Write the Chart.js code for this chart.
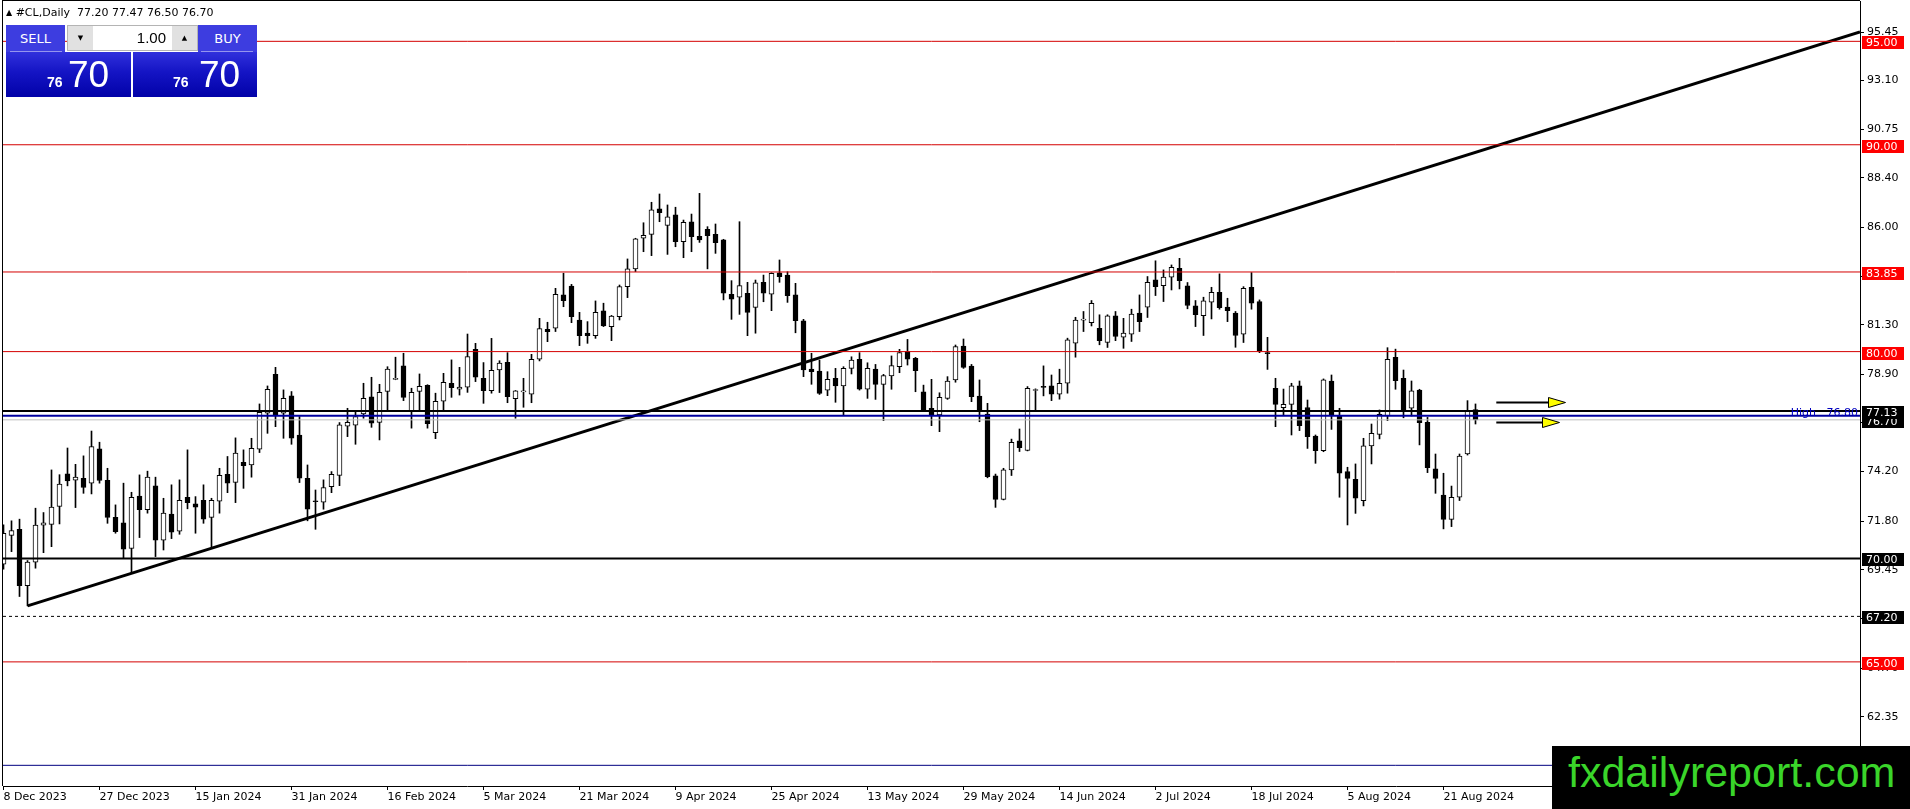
<!DOCTYPE html>
<html>
<head>
<meta charset="utf-8">
<title>#CL,Daily</title>
<script src="https://cdn.jsdelivr.net/npm/chart.js"></script>
<style>
  body { margin: 0; background: #fff; }
  #wrap { position: relative; width: 1910px; height: 809px; overflow: hidden; background: #fff; }
  #c { position: absolute; left: 0; top: 0; display: block; }
  .abs { position: absolute; }
  #hdr { left: 6px; top: 6px; font: 11px/14px "DejaVu Sans", sans-serif; color: #000; white-space: pre; }
  #hdr .tri { font-size: 8px; vertical-align: 1px; }
  .btn { top: 25px; width: 59px; height: 27px; background: #3d3de0; color: #fff;
         font: 13px/27px "DejaVu Sans", sans-serif; text-align: center; }
  .sep { top: 51px; width: 52px; height: 1px; background: rgba(255,255,255,0.45); }
  .box { top: 52px; height: 45px; background: linear-gradient(#3030dc, #1414c4 45%, #0202a8); }
  .sm { top: 75px; font: bold 14px/14px "Liberation Sans", sans-serif; color: #fff; }
  .big { top: 56px; font: 37px/37px "Liberation Sans", sans-serif; color: #fff; }
  #qty { left: 67px; top: 25px; width: 129px; height: 24px; background: #fff; border: 1px solid #b4b4b4; }
  .arr { top: 0; width: 25px; height: 24px; background: #e1e1e1; font: 7px/24px "DejaVu Sans", sans-serif;
         text-align: center; color: #000; }
  #qtyVal { left: 26px; top: 0; width: 72px; height: 24px; font: 15px/24px "Liberation Sans", sans-serif;
            text-align: right; color: #000; }
  #logo { left: 1552px; top: 746px; width: 358px; height: 63px; background: #000; }
  #logoText { left: 1568px; top: 751px; font: 43px/43px "Liberation Sans", sans-serif; color: #3ad52a; white-space: nowrap; }
</style>
</head>
<body>
<div id="wrap">
  <canvas id="c" width="1910" height="809"></canvas>

  <div id="hdr" class="abs"><span class="tri">▲</span> #CL,Daily  77.20 77.47 76.50 76.70</div>

  <div class="abs box" style="left:6px;width:125px"></div>
  <div class="abs box" style="left:133px;width:124px"></div>
  <div class="abs btn" style="left:6px">SELL</div>
  <div class="abs btn" style="left:198px">BUY</div>
  <div class="abs sep" style="left:10px"></div>
  <div class="abs sep" style="left:201px"></div>
  <div id="qty" class="abs">
    <div class="abs arr" style="left:0">▼</div>
    <div id="qtyVal" class="abs">1.00</div>
    <div class="abs arr" style="left:104px">▲</div>
  </div>
  <div class="abs sm" style="left:47px">76</div>
  <div class="abs big" style="left:68px">70</div>
  <div class="abs sm" style="left:173px">76</div>
  <div class="abs big" style="left:199px">70</div>

  <div id="logo" class="abs"></div>
  <div id="logoText" class="abs">fxdailyreport.com</div>
</div>

<script>
// bottom axis labels, one every 12 daily bars
const dateLabels = ['8 Dec 2023', '27 Dec 2023', '15 Jan 2024', '31 Jan 2024', '16 Feb 2024',
  '5 Mar 2024', '21 Mar 2024', '9 Apr 2024', '25 Apr 2024', '13 May 2024', '29 May 2024',
  '14 Jun 2024', '2 Jul 2024', '18 Jul 2024', '5 Aug 2024', '21 Aug 2024']
const labelStep = 12

// daily OHLC
const opens = [
  69.72, 71.12, 71.41, 68.69, 69.82, 71.61, 71.65, 72.51, 74.09, 73.78,
  73.88, 73.64, 75.30, 73.78, 71.99, 71.72, 70.48, 73.02, 72.36, 73.51,
  70.88, 72.14, 71.32, 72.96, 72.64, 72.81, 71.99, 72.77, 74.07, 73.68,
  74.65, 74.52, 75.28, 77.02, 78.90, 77.02, 77.86, 75.97, 73.88, 72.76,
  72.72, 73.47, 74.01, 76.39, 76.44, 76.99, 77.81, 76.58, 78.07, 78.66,
  79.31, 77.15, 78.07, 78.37, 76.08, 77.60, 78.47, 78.18, 78.28, 80.11,
  78.71, 78.11, 79.11, 79.48, 77.73, 78.05, 77.94, 79.63, 81.08, 81.13,
  82.74, 83.17, 81.53, 80.89, 80.77, 81.97, 81.21, 81.69, 83.14, 84.00,
  85.48, 85.67, 86.90, 86.10, 86.61, 85.32, 86.28, 85.57, 85.91, 85.67,
  85.40, 82.77, 82.63, 82.82, 82.14, 83.35, 82.78, 83.81, 83.70, 82.74,
  81.49, 79.16, 79.06, 78.14, 78.71, 78.34, 79.19, 79.63, 78.18, 79.16,
  78.42, 78.82, 79.27, 80.00, 79.67, 78.06, 77.26, 76.94, 77.74, 78.63,
  80.27, 79.30, 77.85, 76.98, 74.00, 72.86, 74.28, 75.69, 75.22, 78.12,
  78.30, 78.34, 77.94, 78.47, 80.41, 81.52, 81.40, 81.13, 80.44, 81.73,
  80.70, 80.84, 81.86, 82.15, 83.47, 83.19, 83.60, 84.03, 83.18, 82.21,
  81.74, 82.39, 82.87, 82.15, 81.86, 80.84, 83.11, 82.42, 79.92, 78.22,
  77.29, 77.45, 78.34, 77.30, 75.92, 75.21, 78.58, 76.89, 74.20, 73.83,
  72.80, 75.44, 76.00, 76.89, 79.72, 78.71, 77.26, 78.14, 76.58, 74.33,
  73.07, 71.89, 72.96, 75.05, 77.20]
const highs = [
  71.62, 71.82, 71.90, 69.90, 72.43, 72.22, 74.28, 74.05, 75.34, 74.55,
  74.96, 76.16, 75.62, 74.36, 72.59, 73.64, 73.20, 74.04, 74.22, 73.93,
  72.91, 73.56, 73.80, 75.25, 72.99, 73.56, 72.91, 74.36, 74.93, 75.83,
  75.25, 75.81, 77.47, 78.34, 79.24, 78.15, 78.07, 76.86, 74.52, 73.31,
  73.80, 74.20, 76.57, 77.26, 77.10, 78.47, 78.76, 78.42, 79.27, 79.73,
  79.92, 78.23, 78.92, 78.40, 77.99, 78.95, 79.60, 79.24, 80.85, 80.40,
  79.47, 80.64, 79.56, 79.95, 78.12, 78.71, 79.87, 81.61, 81.42, 83.06,
  83.79, 83.25, 81.90, 81.45, 82.45, 82.34, 81.75, 83.22, 84.48, 85.48,
  86.23, 87.22, 87.62, 87.09, 86.98, 86.36, 86.65, 87.65, 86.04, 86.17,
  85.43, 83.43, 86.28, 83.35, 83.46, 83.70, 83.81, 84.43, 83.86, 83.30,
  81.56, 79.92, 79.59, 79.03, 79.19, 79.27, 79.75, 79.95, 79.46, 79.38,
  78.90, 79.79, 80.11, 80.59, 79.72, 78.38, 78.66, 78.01, 78.79, 80.32,
  80.61, 79.38, 78.63, 77.50, 74.08, 74.36, 75.77, 76.26, 78.31, 78.20,
  79.31, 78.87, 79.15, 80.65, 81.66, 81.94, 82.47, 81.78, 81.78, 81.94,
  81.61, 82.05, 82.74, 83.63, 84.39, 83.95, 84.19, 84.51, 83.34, 82.47,
  82.63, 83.11, 83.76, 82.58, 81.94, 83.14, 83.82, 82.50, 80.69, 78.71,
  78.19, 78.47, 78.58, 77.66, 75.97, 78.68, 78.87, 77.26, 74.41, 74.57,
  75.81, 76.50, 77.18, 80.19, 80.12, 79.11, 78.58, 78.18, 76.82, 75.05,
  74.12, 73.50, 75.05, 77.63, 77.47]
const lows = [
  69.48, 70.33, 68.16, 67.71, 69.53, 70.28, 70.57, 71.67, 73.51, 72.46,
  73.15, 73.12, 73.64, 71.70, 71.22, 70.00, 69.29, 71.01, 72.19, 70.09,
  70.41, 70.96, 71.17, 72.40, 71.22, 71.70, 70.53, 72.19, 73.18, 72.70,
  73.39, 73.93, 75.12, 76.05, 76.37, 75.81, 75.52, 73.67, 71.82, 71.41,
  72.38, 73.18, 73.52, 75.89, 75.52, 76.78, 76.34, 75.73, 77.18, 78.64,
  77.63, 76.30, 77.15, 76.30, 75.79, 77.15, 77.79, 77.90, 78.03, 78.55,
  77.50, 77.99, 78.02, 77.53, 76.78, 77.31, 77.53, 79.55, 80.48, 80.97,
  82.17, 81.40, 80.29, 80.40, 80.64, 81.21, 80.53, 81.53, 82.61, 83.87,
  84.83, 84.64, 86.28, 84.70, 85.07, 84.54, 84.83, 85.28, 84.00, 84.75,
  82.50, 81.56, 81.80, 80.77, 80.89, 82.41, 81.98, 83.35, 82.38, 80.91,
  78.79, 78.42, 77.93, 77.87, 77.55, 76.94, 78.92, 78.14, 77.74, 77.69,
  76.66, 78.18, 78.98, 79.35, 78.06, 77.10, 76.42, 76.13, 77.69, 78.52,
  79.19, 77.58, 76.61, 73.90, 72.47, 72.83, 74.01, 75.17, 75.20, 77.15,
  77.86, 77.63, 77.70, 77.99, 79.73, 80.97, 81.24, 80.33, 80.20, 80.53,
  80.16, 80.49, 80.97, 81.65, 82.71, 82.42, 82.98, 83.03, 82.07, 81.21,
  80.78, 81.58, 82.05, 81.45, 80.21, 80.44, 82.05, 79.95, 79.14, 76.37,
  76.94, 75.97, 76.18, 75.32, 74.60, 75.16, 76.24, 72.96, 71.62, 72.18,
  72.54, 74.57, 75.78, 76.66, 78.18, 76.80, 76.89, 75.49, 74.15, 73.15,
  71.43, 71.54, 72.80, 75.00, 76.50]
const closes = [
  71.22, 71.35, 68.69, 69.82, 71.61, 71.72, 72.48, 73.60, 73.75, 73.93,
  73.43, 75.41, 73.77, 71.99, 71.30, 70.45, 72.96, 72.36, 73.93, 70.88,
  72.20, 71.27, 72.81, 72.70, 72.48, 71.90, 72.81, 74.02, 73.64, 75.09,
  74.49, 75.33, 77.07, 78.18, 76.94, 77.74, 75.81, 73.88, 72.38, 72.74,
  73.43, 74.07, 76.46, 76.58, 76.86, 77.74, 76.54, 78.03, 79.15, 78.68,
  77.79, 78.03, 78.32, 76.52, 77.60, 78.52, 78.26, 78.28, 79.76, 78.76,
  78.11, 79.10, 79.44, 77.82, 78.10, 78.07, 79.63, 81.11, 80.97, 82.77,
  82.46, 81.69, 80.77, 80.77, 81.90, 81.24, 81.72, 83.14, 84.00, 85.45,
  85.62, 86.85, 86.72, 86.52, 85.32, 86.25, 85.56, 85.40, 85.61, 85.27,
  82.82, 82.53, 83.19, 81.90, 83.33, 82.82, 83.78, 83.62, 82.70, 81.49,
  79.11, 79.03, 77.98, 78.66, 78.34, 79.19, 79.59, 78.18, 79.19, 78.42,
  78.84, 79.32, 79.95, 79.63, 79.08, 77.14, 76.94, 77.79, 78.58, 80.24,
  79.24, 77.82, 77.14, 73.95, 72.86, 74.28, 75.62, 75.36, 78.23, 78.13,
  78.27, 77.94, 78.47, 80.57, 81.53, 81.54, 82.34, 80.53, 81.73, 80.73,
  80.89, 81.82, 81.45, 83.35, 83.14, 83.60, 84.08, 83.43, 82.23, 81.78,
  82.45, 82.87, 82.13, 81.98, 80.78, 83.06, 82.34, 80.04, 79.90, 77.45,
  77.45, 78.34, 76.42, 75.89, 75.21, 78.63, 76.94, 74.12, 73.87, 72.91,
  75.44, 76.05, 76.97, 79.63, 78.59, 77.14, 78.10, 76.56, 74.39, 73.87,
  71.89, 72.96, 74.95, 77.13, 76.70]

// right axis tick values
const yTicks = [95.45, 93.10, 90.75, 88.40, 86.00, 83.65, 81.30, 78.90, 76.55,
  74.20, 71.80, 69.45, 67.10, 64.70, 62.35]

// horizontal levels drawn on the chart
const redLevels = [95.00, 90.00, 83.85, 80.00, 65.00]
const blackLevels = [77.13, 70.00]
const dashedLevels = [67.20]
const bidLevel = [76.70]
const highLevel = [76.90]
const highLabel = 'High   76.80'
const blueLevels = [60.00]

// rising trend line: [bar index, price]
const trendFrom = [3, 67.71]
const trendTo = [232.06, 95.45]

// the two yellow arrows on the right: price, start bar, end bar
const arrowPrices = [77.55, 76.60]
const arrowFrom = [186.6, 186.6]
const arrowTo = [195.25, 194.5]

const xMin = -0.0625
const xMax = 232.0625
const font = { family: 'DejaVu Sans', size: 11 }

const levelLine = (v, color, width, dash) => ({
  type: 'line',
  data: [{ x: xMin, y: v }, { x: xMax, y: v }],
  borderColor: color,
  borderWidth: width,
  borderDash: dash || [],
  pointRadius: 0,
  fill: false,
  order: 0
})

const levels = [
  ...redLevels.map(v => levelLine(v, '#d40000', 1)),
  ...blueLevels.map(v => levelLine(v, '#000080', 1)),
  ...dashedLevels.map(v => levelLine(v, '#000', 1, [3, 3])),
  ...bidLevel.map(v => levelLine(v, '#c0c0c0', 1)),
  ...highLevel.map(v => levelLine(v, '#0000a0', 2)),
  ...blackLevels.map(v => levelLine(v, '#000', 2))
]

// price tags on the right axis, drawn in this order
const tags = [
  ...redLevels.map(v => ({ v, bg: '#ff0000' })),
  ...bidLevel.map(v => ({ v, bg: '#000' })),
  ...blackLevels.map(v => ({ v, bg: '#000' })),
  ...dashedLevels.map(v => ({ v, bg: '#000' }))
]

const overlay = {
  id: 'overlay',
  afterDraw(chart) {
    const { ctx, chartArea: a, scales: { x, y } } = chart
    ctx.save()

    // frame top and left
    ctx.fillStyle = '#000'
    ctx.fillRect(a.left - 1, a.top - 1, a.right - a.left + 1, 1)
    ctx.fillRect(a.left - 1, a.top - 1, 1, a.bottom - a.top + 1)

    // arrows
    arrowPrices.forEach((p, i) => {
      const py = Math.round(y.getPixelForValue(p)) + 0.5
      const x1 = x.getPixelForValue(arrowFrom[i])
      const x2 = x.getPixelForValue(arrowTo[i])
      ctx.strokeStyle = '#000'
      ctx.lineWidth = 2
      ctx.beginPath()
      ctx.moveTo(x1, py)
      ctx.lineTo(x2 - 16, py)
      ctx.stroke()
      ctx.lineWidth = 1
      ctx.fillStyle = '#ffff00'
      ctx.beginPath()
      ctx.moveTo(x2 - 17, py - 5)
      ctx.lineTo(x2, py)
      ctx.lineTo(x2 - 17, py + 5)
      ctx.closePath()
      ctx.fill()
      ctx.stroke()
    })

    // "High" label on the blue line
    ctx.font = '11px "DejaVu Sans"'
    ctx.fillStyle = '#0000c0'
    ctx.textAlign = 'right'
    ctx.textBaseline = 'alphabetic'
    highLevel.forEach(v => {
      ctx.fillText(highLabel, a.right - 2, y.getPixelForValue(v))
    })

    // price tags
    ctx.textAlign = 'left'
    ctx.textBaseline = 'middle'
    tags.forEach(t => {
      const py = Math.round(y.getPixelForValue(t.v))
      ctx.fillStyle = t.bg
      ctx.fillRect(a.right + 2, py - 5, 42, 13)
      ctx.fillStyle = '#fff'
      ctx.fillText(t.v.toFixed(2), a.right + 6, py + 2)
    })
    ctx.restore()
  }
}

new Chart(document.getElementById('c'), {
  type: 'bar',
  data: {
    datasets: [
      ...levels,
      {
        type: 'line',
        data: [{ x: trendFrom[0], y: trendFrom[1] }, { x: trendTo[0], y: trendTo[1] }],
        borderColor: '#000',
        borderWidth: 3,
        pointRadius: 0,
        fill: false,
        order: 0
      },
      {
        label: 'bodies',
        data: opens.map((o, i) => ({ x: i, y: [o, closes[i]] })),
        backgroundColor: opens.map((o, i) => closes[i] >= o ? '#fff' : '#000'),
        borderColor: '#000',
        borderWidth: 1,
        borderSkipped: false,
        barThickness: 5,
        minBarLength: 1,
        grouped: false,
        order: 2
      },
      {
        label: 'wicks',
        data: highs.map((h, i) => ({ x: i, y: [lows[i], h] })),
        backgroundColor: '#000',
        borderWidth: 0,
        barThickness: 1,
        grouped: false,
        order: 3
      }
    ]
  },
  options: {
    responsive: false,
    devicePixelRatio: 1,
    animation: false,
    events: [],
    layout: { padding: { left: 3, top: 1, right: 0, bottom: 0 } },
    plugins: {
      legend: { display: false },
      tooltip: { enabled: false }
    },
    scales: {
      x: {
        type: 'linear',
        position: 'bottom',
        min: xMin,
        max: xMax,
        offset: false,
        afterBuildTicks: axis => {
          axis.ticks = dateLabels.map((_, i) => ({ value: i * labelStep }))
        },
        afterFit: axis => {
          axis.height = 23
          axis.paddingLeft = 0
          axis.paddingRight = 0
        },
        ticks: {
          callback: v => dateLabels[Math.round(v / labelStep)],
          align: 'start',
          autoSkip: false,
          maxRotation: 0,
          padding: 1,
          color: '#000',
          font
        },
        grid: { drawOnChartArea: false, drawTicks: true, tickLength: 4, tickColor: '#000', offset: false },
        border: { color: '#000', width: 1 }
      },
      y: {
        type: 'linear',
        position: 'right',
        min: 59.0,
        max: 96.95,
        beginAtZero: false,
        afterBuildTicks: axis => {
          axis.ticks = yTicks.map(v => ({ value: v }))
        },
        afterFit: axis => {
          axis.width = 50
          axis.paddingTop = 0
          axis.paddingBottom = 0
        },
        ticks: {
          callback: v => v.toFixed(2),
          autoSkip: false,
          padding: 3,
          color: '#000',
          font
        },
        grid: { drawOnChartArea: false, drawTicks: true, tickLength: 4, tickColor: '#000' },
        border: { color: '#000', width: 1 }
      }
    }
  },
  plugins: [overlay]
})
</script>
</body>
</html>
